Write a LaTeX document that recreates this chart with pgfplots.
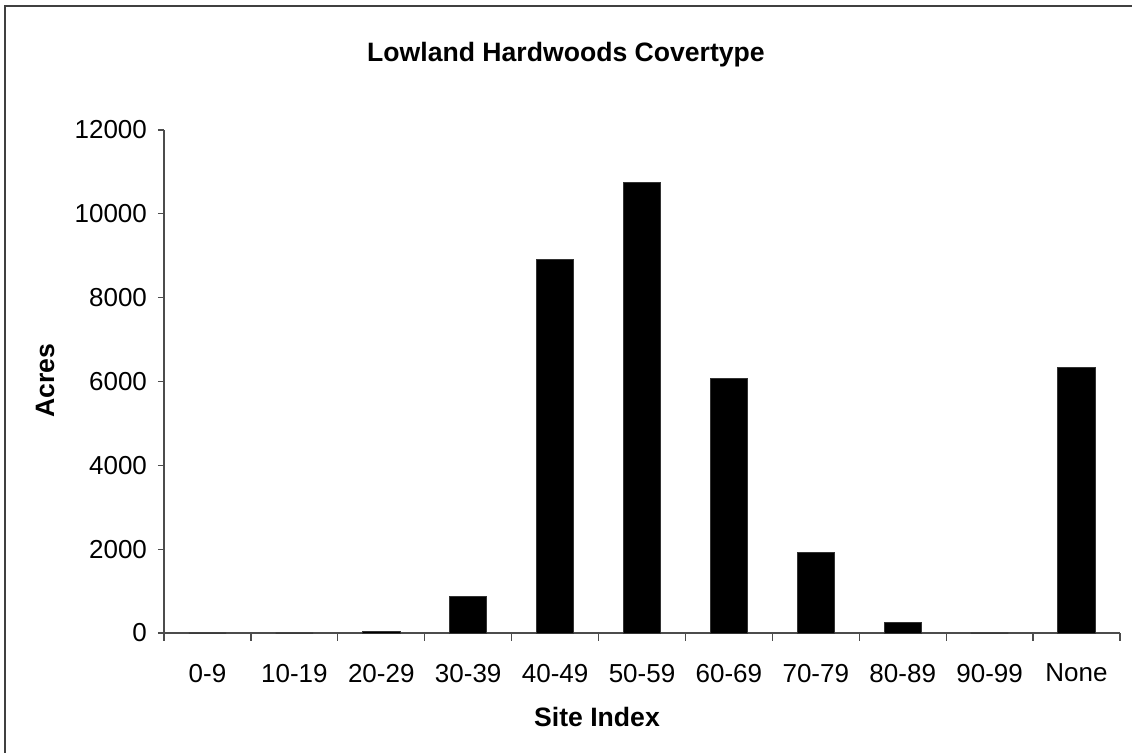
\documentclass[border=0pt]{standalone}
\usepackage{fontspec}
\setmainfont{Liberation Sans}
\usepackage{pgfplots}
\pgfplotsset{compat=1.18}

\begin{document}
\fontsize{13}{15.6}\selectfont
\begin{tikzpicture}
\useasboundingbox (0,0) rectangle (566pt,-376.5pt);
% outer frame (only top and left edges show in the reference)
\draw[line width=1pt, black!75] (2.5pt,-376.5pt) -- (2.5pt,-3pt) -- (566pt,-3pt);

\begin{axis}[
    at={(82pt,-316.5pt)}, anchor=south west,
    scale only axis,
    width=478pt, height=251.5pt,
    xmin=-0.5, xmax=10.5,
    ymin=0, ymax=12000,
    ytick={0,2000,...,12000},
    scaled y ticks=false,
    xtick={0,...,10},
    xticklabels={0-9,10-19,20-29,30-39,40-49,50-59,60-69,70-79,80-89,90-99,None},
    minor xtick={-0.5,0.5,...,10.5},
    major x tick style={draw=none},
    axis x line*=bottom, axis y line*=left,
    axis line style={black!70, line width=0.6pt},
    every tick/.style={black!70, line width=0.6pt},
    tick align=outside,
    major tick length=3pt,
    minor tick length=4pt,
    /pgf/number format/1000 sep={},
    /pgf/number format/assume math mode=true,
    ticklabel style={font=\fontsize{13}{15.6}\selectfont},
    xticklabel style={yshift=-8pt},
    yticklabel style={xshift=-1pt},
    clip=false,
]
\addplot[ybar, bar width=0.43, fill=black, draw=black!80, line width=0.4pt]
    coordinates {
    (0,0)(1,0)(2,40)(3,880)(4,8920)(5,10750)(6,6080)(7,1930)(8,260)(9,0)(10,6340)
    };
\end{axis}

\node[font=\bfseries\fontsize{13.3}{16}\selectfont] at (283pt,-27.5pt) {Lowland Hardwoods Covertype};
\node[font=\bfseries\fontsize{13.3}{16}\selectfont] at (298.5pt,-358.5pt) {Site Index};
\node[font=\bfseries\fontsize{13.3}{16}\selectfont, rotate=90] at (22.5pt,-190.5pt) {Acres};
\end{tikzpicture}
\end{document}
